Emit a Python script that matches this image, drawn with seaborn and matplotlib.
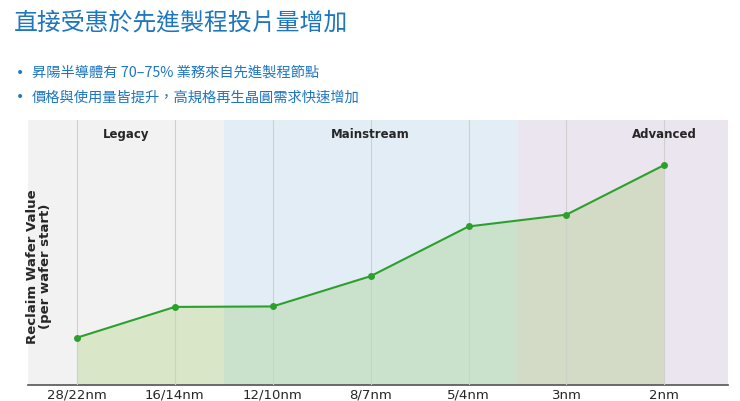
import numpy as np
import pandas as pd
import seaborn as sns
import matplotlib.pyplot as plt

# data
nodes = ["28/22nm", "16/14nm", "12/10nm", "8/7nm", "5/4nm", "3nm", "2nm"]
values = [1.0, 1.65, 1.66, 2.3, 3.35, 3.6, 4.65]
region_names = ["Legacy", "Mainstream", "Advanced"]
region_bounds = [(-0.5, 1.5), (1.5, 4.5), (4.5, 6.65)]
region_label_x = [0.5, 3.0, 6.0]
region_colors = ["#d4d4d4", "#a2c6e1", "#c0accd"]

title = "直接受惠於先進製程投片量增加"
bullets = ["昇陽半導體有 70–75% 業務來自先進製程節點",
           "價格與使用量皆提升，高規格再生晶圓需求快速增加"]

sns.set_style("white")
plt.rcParams['font.family'] = ['DejaVu Sans']
cjk = ['Noto Sans CJK TC', 'DejaVu Sans']

fig = plt.figure(figsize=(7.4, 4.02), dpi=100)
fig.patch.set_facecolor("white")

# slide heading + bullets
blue = "#1f76c0"
fig.text(14 / 740, 1 - 23 / 402, title, fontsize=17.2, color=blue,
         family=cjk, va="center", ha="left")
for i, b in enumerate(bullets):
    y = 1 - (72.5 + 25 * i) / 402
    fig.text(16 / 740, y, "•", fontsize=10, color=blue, va="center", ha="left")
    fig.text(32 / 740, y, b, fontsize=10.3, color=blue, family=cjk,
             va="center", ha="left")

ax = fig.add_axes([28 / 740, 16 / 402, 700 / 740, 265 / 402])

df = pd.DataFrame({"idx": np.arange(len(nodes)), "node": nodes, "value": values})

# fill under the curve first, region shading over it
ax.fill_between(df["idx"], df["value"], color="#dcefc4", zorder=1, lw=0)
for (lo, hi), c in zip(region_bounds, region_colors):
    ax.axvspan(lo, hi, color=c, alpha=0.3, lw=0, zorder=2)

sns.lineplot(data=df, x="idx", y="value", ax=ax, color="#2ca02c", lw=1.5,
             marker="o", markersize=5, markeredgewidth=0, zorder=4)

for name, xpos in zip(region_names, region_label_x):
    ax.text(xpos, 0.95, name, transform=ax.get_xaxis_transform(),
            ha="center", va="center", fontsize=8.5, fontweight="bold")

ax.set_xlim(-0.5, 6.65)
ax.set_ylim(0, 5.6)
ax.set_xticks(df["idx"])
ax.set_xticklabels(nodes, fontsize=9.5)
ax.set_yticks([])
ax.grid(axis="x", color="#cfcfcf", lw=0.8, zorder=3)
ax.set_axisbelow(False)
ax.tick_params(axis="x", length=2, width=0.8, color="#555555", pad=0)

for s in ["top", "right", "left"]:
    ax.spines[s].set_visible(False)
ax.spines["bottom"].set_color("#555555")
ax.spines["bottom"].set_linewidth(1.2)

ax.set_xlabel("Process Node", fontsize=9.5, fontweight="bold", labelpad=0)
ax.set_ylabel("Reclaim Wafer Value\n(per wafer start)", fontsize=9.5,
              fontweight="bold", linespacing=1.0)
ax.yaxis.set_label_coords(0.034, 0.45)

fig.savefig("out.png", dpi=100, facecolor="white")
